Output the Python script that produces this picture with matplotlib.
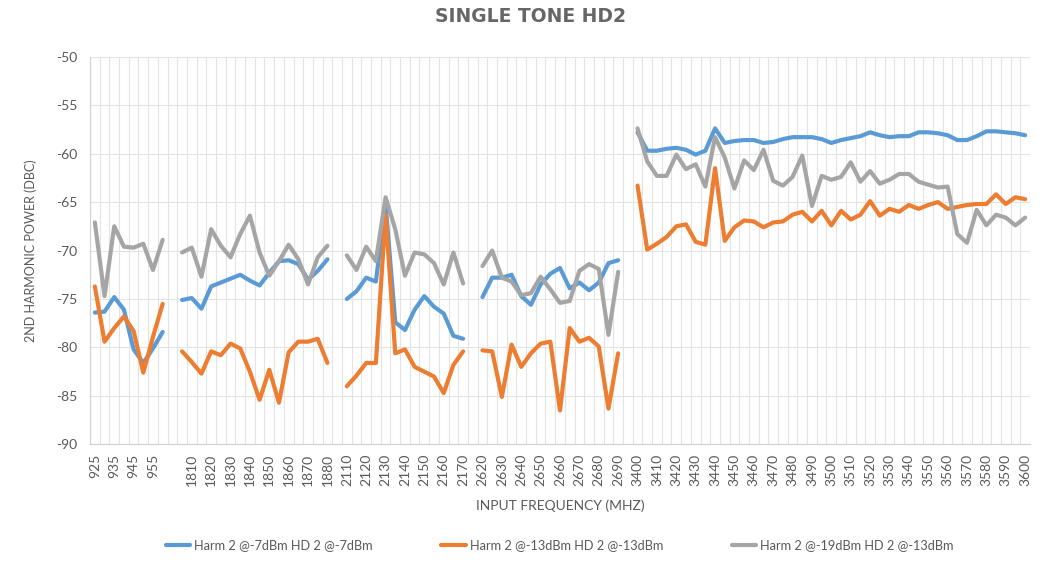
import numpy as np
import matplotlib.pyplot as plt

# category labels (MHz); blank slot between each band
band1 = [str(f) for f in range(925, 961, 5)]
band2 = [str(f) for f in range(1805, 1881, 5)]
band3 = [str(f) for f in range(2110, 2171, 5)]
band4 = [str(f) for f in range(2620, 2691, 5)]
band5 = [str(f) for f in range(3400, 3601, 5)]
categories = band1 + [''] + band2 + [''] + band3 + [''] + band4 + [''] + band5

nan = np.nan

harm_7dbm = [
    -76.4, -76.3, -74.8, -76.1, -80.2, -81.6, -80.1, -78.4,
    nan,
    -75.1, -74.9, -76.0, -73.7, -73.3, -72.9, -72.5, -73.1, -73.6, -72.3, -71.1, -71.0, -71.4, -73.0, -72.1, -70.9,
    nan,
    -75.0, -74.2, -72.8, -73.2, -65.2, -77.4, -78.2, -76.1, -74.7, -75.8, -76.5, -78.8, -79.1,
    nan,
    -74.8, -72.8, -72.8, -72.5, -74.7, -75.6, -73.5, -72.4, -71.8, -73.9, -73.3, -74.1, -73.3, -71.3, -71.0,
    nan,
    -57.8, -59.7, -59.7, -59.5, -59.4, -59.6, -60.1, -59.7, -57.4, -58.9, -58.7, -58.6, -58.6, -58.9, -58.8,
    -58.5, -58.3, -58.3, -58.3, -58.5, -58.9, -58.6, -58.4, -58.2, -57.8, -58.1, -58.3, -58.2, -58.2, -57.8,
    -57.8, -57.9, -58.1, -58.6, -58.6, -58.2, -57.7, -57.7, -57.8, -57.9, -58.1,
]

harm_13dbm = [
    -73.7, -79.4, -78.0, -76.8, -78.3, -82.6, -78.9, -75.5,
    nan,
    -80.4, -81.5, -82.7, -80.4, -80.8, -79.6, -80.1, -82.5, -85.4, -82.3, -85.7, -80.5, -79.4, -79.4, -79.1, -81.6,
    nan,
    -84.0, -82.9, -81.6, -81.6, -66.3, -80.6, -80.2, -82.0, -82.5, -83.0, -84.7, -81.8, -80.4,
    nan,
    -80.3, -80.4, -85.1, -79.7, -82.0, -80.6, -79.6, -79.4, -86.5, -78.0, -79.4, -79.0, -79.9, -86.3, -80.6,
    nan,
    -63.3, -69.9, -69.3, -68.6, -67.5, -67.3, -69.1, -69.4, -61.5, -69.0, -67.6, -66.9, -67.0, -67.6, -67.1,
    -67.0, -66.3, -66.0, -67.0, -65.9, -67.4, -65.9, -66.8, -66.3, -64.9, -66.4, -65.7, -66.0, -65.3, -65.7,
    -65.3, -65.0, -65.7, -65.5, -65.3, -65.2, -65.2, -64.2, -65.2, -64.5, -64.7,
]

harm_19dbm = [
    -67.1, -74.7, -67.5, -69.6, -69.7, -69.3, -72.0, -68.9,
    nan,
    -70.2, -69.7, -72.7, -67.8, -69.5, -70.7, -68.3, -66.4, -70.2, -72.6, -71.1, -69.4, -70.9, -73.5, -70.7, -69.5,
    nan,
    -70.5, -72.0, -69.6, -71.1, -64.5, -67.8, -72.6, -70.2, -70.4, -71.3, -73.5, -70.2, -73.4,
    nan,
    -71.6, -70.0, -72.8, -73.2, -74.6, -74.4, -72.7, -74.0, -75.4, -75.2, -72.1, -71.4, -71.9, -78.7, -72.2,
    nan,
    -57.4, -60.8, -62.3, -62.3, -60.1, -61.6, -61.1, -63.4, -58.3, -60.4, -63.6, -60.7, -61.7, -59.6, -62.8,
    -63.3, -62.4, -60.2, -65.4, -62.3, -62.7, -62.4, -60.9, -62.9, -61.8, -63.1, -62.7, -62.1, -62.1, -62.9,
    -63.2, -63.5, -63.4, -68.3, -69.2, -65.8, -67.4, -66.3, -66.6, -67.4, -66.6,
]

series = [
    ('Harm 2 @-7dBm HD 2 @-7dBm', harm_7dbm, '#5B9BD5'),
    ('Harm 2 @-13dBm HD 2 @-13dBm', harm_13dbm, '#ED7D31'),
    ('Harm 2 @-19dBm HD 2 @-13dBm', harm_19dbm, '#A5A5A5'),
]

plt.rcParams['font.family'] = ['Lato', 'DejaVu Sans']
plt.rcParams['axes.unicode_minus'] = False
text_col = '#595959'
grid_col = '#E3E3E3'

fig = plt.figure(figsize=(10.54, 5.67), dpi=100)
ax = fig.add_axes([90 / 1054, 1 - 444.4 / 567, (1030 - 90) / 1054, (444.4 - 56.7) / 567])

x = np.arange(len(categories))
for name, vals, col in series:
    ax.plot(x, vals, color=col, lw=3.0, label=name, solid_joinstyle='round', solid_capstyle='round')

ax.set_xlim(-0.5, len(categories) - 0.5)
ax.set_ylim(-90, -50)
ax.set_yticks(np.arange(-90, -49, 5))

ax.set_xticks(x[::2])
ax.set_xticklabels(categories[::2], rotation=90)
ax.set_xticks(np.arange(-0.5, len(categories), 1), minor=True)
ax.tick_params(axis='x', which='both', length=0, labelsize=10, colors=text_col, pad=7)
ax.tick_params(axis='y', length=0, labelsize=10, colors=text_col, pad=9)

ax.grid(True, which='minor', axis='x', color=grid_col, lw=0.8)
ax.grid(True, which='major', axis='y', color=grid_col, lw=0.8)
ax.set_axisbelow(True)
for s in ['top', 'right']:
    ax.spines[s].set_visible(False)
for s in ['left', 'bottom']:
    ax.spines[s].set_color('#D0D0D0')
    ax.spines[s].set_linewidth(0.8)

ax.set_xlabel('INPUT FREQUENCY (MHZ)', fontsize=10, color=text_col, labelpad=9)
ax.set_ylabel('2ND HARMONIC POWER (DBC)', fontsize=9, color=text_col, labelpad=14)

fig.text(0.503, 1 - 17 / 567, 'SINGLE TONE HD2', ha='center', va='center',
         fontsize=13.5, fontweight='bold', color='#666666', family='DejaVu Sans')

fig.legend(loc='center', bbox_to_anchor=(0.531, 1 - 545 / 567), ncol=3, frameon=False,
           fontsize=9.2, labelcolor=text_col, handlelength=1.9, handletextpad=0.3,
           columnspacing=5.4)

fig.savefig('out.png', dpi=100)
